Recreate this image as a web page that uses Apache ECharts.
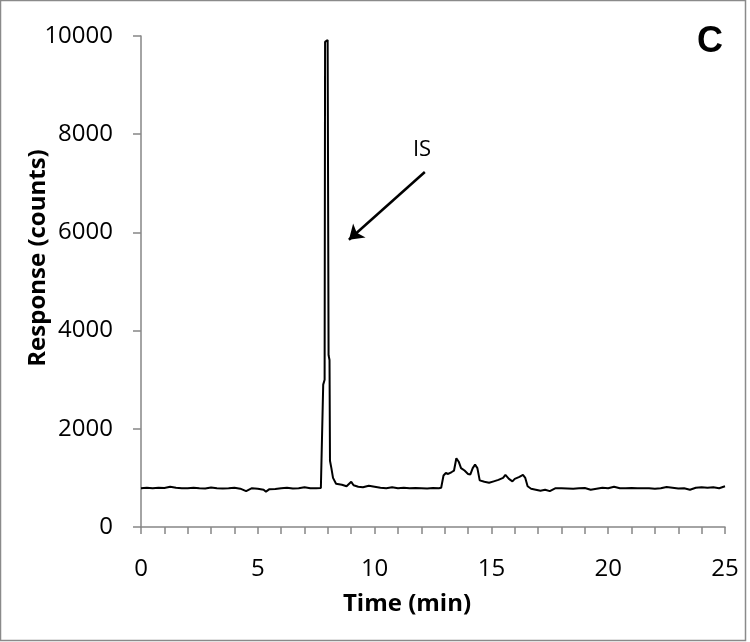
<!DOCTYPE html>
<html>
<head>
<meta charset="utf-8">
<script src="https://cdn.jsdelivr.net/npm/echarts@6/dist/echarts.min.js"></script>
<style>
  html, body { margin: 0; padding: 0; background: #fff; }
</style>
</head>
<body>

<div id="main" style="width: 750px;height:642px;"></div>

<script type="text/javascript">
    // chromatogram data
    var timeMin = [
        0.0, 0.25, 0.5, 0.75, 1.0, 1.25, 1.5, 1.75, 2.0, 2.25, 2.5, 2.75, 3.0, 3.25, 3.5, 3.75,
        4.0, 4.25, 4.5, 4.75, 5.0, 5.25, 5.35, 5.5, 5.75, 6.0, 6.25, 6.5, 6.75, 7.0, 7.25, 7.5, 7.7,
        7.78, 7.8, 7.86, 7.88, 7.99, 8.03, 8.07, 8.09, 8.15, 8.22, 8.35,
        8.6, 8.8, 9.0, 9.1, 9.3, 9.5, 9.75, 10.0, 10.25, 10.5, 10.75, 11.0, 11.25, 11.5, 11.75,
        12.0, 12.25, 12.5, 12.75, 12.85, 12.95, 13.05, 13.15, 13.3, 13.4, 13.5, 13.6, 13.7, 13.85,
        14.0, 14.1, 14.2, 14.3, 14.4, 14.5, 14.7, 14.9, 15.1, 15.3, 15.5, 15.6, 15.75, 15.9,
        16.0, 16.2, 16.35, 16.45, 16.55, 16.7, 16.9, 17.1, 17.3, 17.5, 17.75,
        18.0, 18.25, 18.5, 18.75, 19.0, 19.25, 19.5, 19.75, 20.0, 20.25, 20.5, 20.75,
        21.0, 21.25, 21.5, 21.75, 22.0, 22.25, 22.5, 22.75, 23.0, 23.25, 23.5, 23.75,
        24.0, 24.25, 24.5, 24.75, 25.0
    ];
    var counts = [
        790, 800, 790, 800, 795, 820, 800, 790, 790, 800, 790, 785, 805, 790, 785, 790,
        800, 780, 730, 790, 780, 760, 720, 770, 775, 790, 800, 785, 790, 810, 790, 790, 795,
        800, 2900, 3000, 9880, 9920, 3500, 3400, 1350, 1200, 1000, 880,
        860, 830, 920, 850, 820, 810, 840, 820, 800, 790, 810, 790, 800, 790, 795,
        790, 785, 795, 790, 800, 1050, 1100, 1080, 1120, 1150, 1400, 1330, 1200, 1150,
        1080, 1070, 1200, 1270, 1200, 950, 920, 900, 930, 960, 1000, 1060, 980, 930,
        980, 1020, 1060, 1000, 830, 780, 760, 740, 760, 730, 790,
        790, 785, 780, 790, 795, 760, 780, 800, 790, 820, 790, 790,
        795, 790, 790, 790, 780, 790, 815, 800, 785, 790, 760, 800,
        810, 800, 810, 790, 830
    ];

    // IS arrow (tail -> head) in data units
    var arrowTail = [12.15, 7230];
    var arrowHead = [8.9, 5850];

    var trace = timeMin.map(function (t, i) { return [t, counts[i]]; });

    var axisGray = '#868686';
    var labelFont = '"Open Sans", "Liberation Sans", sans-serif';

    var myChart = echarts.init(document.getElementById('main'));

    var option = {
        backgroundColor: '#fff',
        animation: false,
        grid: { left: 141, right: 25, top: 36, bottom: 115 },
        xAxis: {
            type: 'value',
            min: 0,
            max: 25,
            interval: 5,
            axisLine: { show: true, lineStyle: { color: axisGray, width: 1.5 } },
            axisTick: { show: true, inside: false, length: 7, lineStyle: { color: axisGray, width: 1.5 } },
            minorTick: { show: true, splitNumber: 5, length: 7, lineStyle: { color: axisGray, width: 1.5 } },
            splitLine: { show: false },
            axisLabel: { color: '#000', fontSize: 24, fontFamily: labelFont, margin: 30 }
        },
        yAxis: {
            type: 'value',
            min: 0,
            max: 10000,
            interval: 2000,
            axisLine: { show: true, lineStyle: { color: axisGray, width: 1.5 } },
            axisTick: { show: true, inside: false, length: 8, lineStyle: { color: axisGray, width: 1.5 } },
            splitLine: { show: false },
            axisLabel: {
                color: '#000', fontSize: 24, fontFamily: labelFont, margin: 28,
                formatter: function (v) { return String(v); }
            }
        },
        series: [{
            name: 'Response',
            type: 'line',
            data: trace,
            showSymbol: false,
            lineStyle: { color: '#000', width: 2 },
            itemStyle: { color: '#000' },
            markLine: {
                silent: true,
                symbol: ['none', 'arrow'],
                symbolSize: 14,
                label: { show: false },
                lineStyle: { color: '#000', width: 2.5, type: 'solid' },
                data: [[{ coord: arrowTail }, { coord: arrowHead }]]
            }
        }],
        graphic: [
            {
                type: 'rect',
                shape: { x: 0.5, y: 0.5, width: 745, height: 640 },
                style: { fill: 'none', stroke: '#8a8a8a', lineWidth: 1.5 }
            },
            {
                type: 'text',
                x: 38, y: 258,
                rotation: Math.PI / 2,
                style: {
                    text: 'Response (counts)', fill: '#000',
                    font: 'bold 24px ' + labelFont,
                    textAlign: 'center', textVerticalAlign: 'middle'
                }
            },
            {
                type: 'text',
                x: 407, y: 604,
                style: {
                    text: 'Time (min)', fill: '#000',
                    font: 'bold 24px ' + labelFont,
                    textAlign: 'center', textVerticalAlign: 'middle'
                }
            },
            {
                type: 'text',
                x: 422, y: 150,
                style: {
                    text: 'IS', fill: '#000',
                    font: '22px ' + labelFont,
                    textAlign: 'center', textVerticalAlign: 'middle'
                }
            },
            {
                type: 'text',
                x: 710, y: 42,
                style: {
                    text: 'C', fill: '#000',
                    font: 'bold 36px "Liberation Sans", Arial, sans-serif',
                    textAlign: 'center', textVerticalAlign: 'middle'
                }
            }
        ]
    };

    myChart.setOption(option);
</script>

</body>
</html>
